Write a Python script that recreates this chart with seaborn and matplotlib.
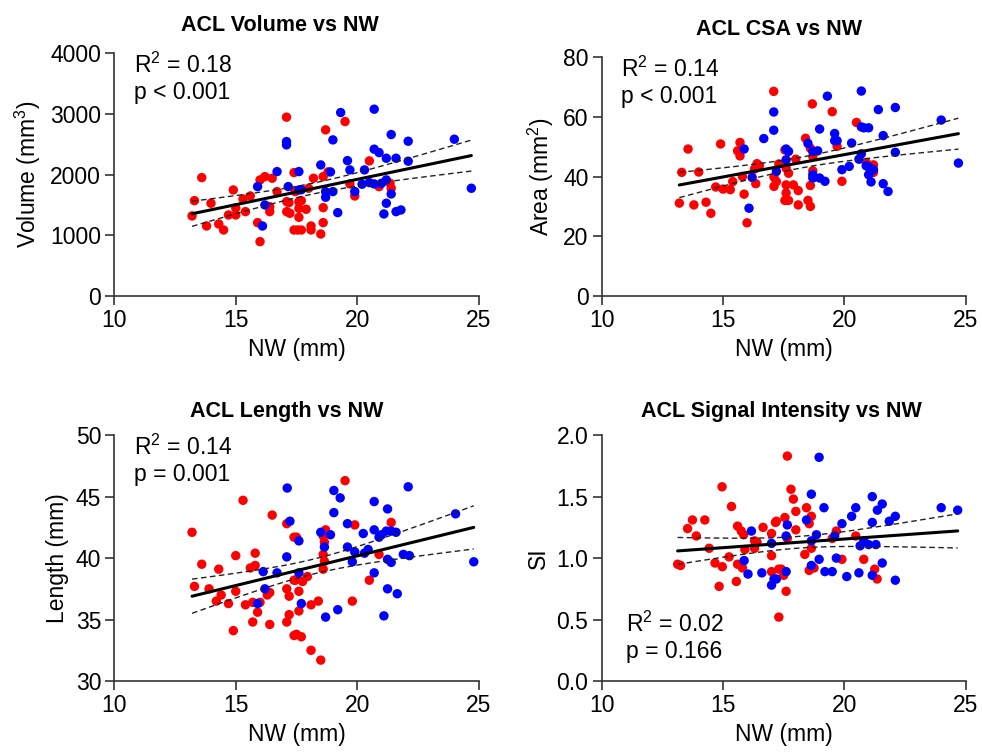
"""ACL morphology vs notch width (NW): 2x2 scatter + linear fit with 95% CI."""

import matplotlib
matplotlib.use("Agg")
import matplotlib.pyplot as plt  # noqa: E402
import numpy as np  # noqa: E402
import pandas as pd  # noqa: E402
import seaborn as sns  # noqa: E402

# ---------------- data ----------------

vol_red_nw = [17.09, 13.6, 16.0, 16.2, 13.3, 13.98, 13.2, 13.8, 14.3, 14.5, 14.7, 15.0, 15.0, 15.4,
              15.3, 14.9, 15.6, 15.9, 16.0, 16.4, 16.4, 16.5, 16.7, 17.1, 17.1, 17.4, 17.4,
              19.5, 18.7, 20.5, 18.8, 18.2, 18.6, 19.7, 20.9, 21.35, 21.4, 18.0, 19.9, 17.19, 17.23,
              17.6, 17.7, 17.6, 17.6, 17.9, 18.6, 18.6, 17.55, 17.7, 18.1, 18.1, 18.5, 17.45]
vol_red = [2944, 1949, 1911, 1965, 1570, 1527, 1318, 1153, 1186, 1087, 1334, 1334, 1450, 1389,
           1598, 1746, 1647, 1208, 895, 1471, 1389, 1939, 1719, 1554, 1389, 1087, 2032,
           2872, 2735, 2224, 2043, 1939, 1965, 1845, 1801, 1856, 1774, 1774, 1647, 1537, 1362,
           1554, 1570, 1444, 1296, 1428, 1455, 1208, 1087, 1087, 1153, 1087, 1021, 1719]
vol_blue_nw = [17.09, 17.09, 16.7, 15.9, 17.16, 16.1, 16.2,
               19.32, 20.7, 19.0, 21.4, 22.1, 24.0, 20.7, 20.9, 21.2, 21.6, 22.1, 19.6, 18.5, 19.7,
               20.3, 18.9, 17.6, 20.2, 20.5, 20.7, 21.0, 21.2, 21.4, 17.6, 17.7, 18.7, 18.7, 19.0,
               19.9, 21.2, 21.1, 21.6, 21.8, 19.2, 24.7]
vol_blue = [2542, 2488, 2048, 1801, 1801, 1153, 1499,
            3020, 3075, 2570, 2658, 2548, 2581, 2417, 2361, 2268, 2268, 2219, 2229, 2158, 2076,
            2076, 2043, 2048, 1840, 1867, 1845, 1856, 1911, 1680, 1746, 1750, 1719, 1626, 1719,
            1719, 1527, 1351, 1389, 1417, 1373, 1774]

csa_red_nw = [17.09, 13.56, 14.9, 15.7, 15.6, 15.7, 13.3, 14.0, 13.2, 13.8, 14.3, 14.5, 14.7, 15.0,
              15.3, 15.4, 15.8, 15.87, 15.99, 16.3, 16.4, 16.5, 16.35, 17.1, 17.1,
              18.68, 19.5, 20.5, 18.4, 19.7, 18.6, 17.55, 18.7, 18.0, 17.3, 17.6, 17.7, 17.2, 20.9,
              21.2, 21.2, 19.9, 18.7, 18.6, 17.6, 17.9, 18.1, 17.6, 17.55, 17.7, 18.1, 18.5, 18.6]
csa_red = [68.5, 49.2, 50.9, 51.4, 48.6, 46.9, 41.4, 41.5, 31.1, 30.5, 31.4, 27.7, 36.5, 35.8,
           35.6, 38.3, 40.0, 34.1, 24.5, 42.5, 44.3, 43.6, 37.6, 39.8, 36.7,
           64.3, 61.7, 58.1, 52.8, 50.1, 49.5, 48.9, 46.7, 45.8, 44.2, 42.8, 41.1, 38.3, 44.7,
           43.9, 41.4, 38.4, 41.9, 37.0, 37.2, 37.2, 35.3, 34.5, 32.0, 32.0, 30.5, 32.0, 30.0]
csa_blue_nw = [17.09, 17.09, 16.68, 15.87, 16.07, 16.2, 17.2,
               19.3, 20.7, 21.4, 22.1, 23.99, 18.98, 20.7, 20.8, 21.0, 21.6, 19.6, 19.6, 19.7, 18.5,
               20.3, 18.7, 18.9, 17.6, 17.7, 17.6, 20.7, 20.6, 20.9, 21.0, 21.2, 21.0, 22.1, 19.9,
               20.2, 21.1, 21.6, 21.8, 18.7, 18.7, 18.98, 19.2, 24.7]
csa_blue = [61.6, 55.5, 52.7, 49.2, 29.4, 39.7, 41.7,
            66.9, 68.6, 62.4, 63.1, 58.9, 55.9, 56.6, 56.3, 56.3, 53.7, 54.4, 52.0, 52.0, 51.1,
            51.2, 48.4, 48.6, 49.2, 48.4, 45.6, 47.6, 45.8, 43.6, 43.2, 42.3, 40.6, 48.1, 42.3,
            43.4, 38.2, 37.6, 35.0, 40.6, 39.5, 39.5, 38.4, 44.5]

len_red_nw = [15.3, 16.5, 17.1, 13.2, 15.0, 15.8, 13.6, 14.3, 15.6, 15.8, 13.3, 13.9, 14.4, 14.2,
              14.7, 15.0, 15.4, 15.7, 16.0, 15.9, 15.7, 14.9, 16.3, 16.4, 16.4, 17.1, 17.2, 17.1,
              17.2, 17.4, 17.4, 17.4,
              19.5, 19.9, 21.4, 18.7, 18.6, 18.65, 17.5, 20.9, 18.6, 18.65, 18.6, 20.5, 17.45,
              17.75, 17.95, 17.6, 17.6, 18.1, 18.4, 19.8, 17.5, 17.7, 18.1, 18.5]
len_red = [44.7, 43.5, 42.8, 42.1, 40.2, 40.4, 39.5, 39.1, 39.2, 39.4, 37.7, 37.5, 37.0, 36.5,
           36.3, 37.3, 36.2, 36.4, 36.4, 35.6, 34.8, 34.1, 37.0, 37.2, 34.6, 37.5, 36.9, 34.8,
           35.4, 33.7, 41.7, 38.2,
           46.3, 42.7, 42.9, 42.3, 41.8, 41.3, 41.7, 40.3, 40.3, 39.75, 39.1, 38.2, 38.2,
           38.1, 38.5, 37.3, 35.7, 36.2, 36.5, 36.5, 33.8, 33.6, 32.5, 31.7]
len_blue_nw = [17.12, 17.23, 16.13, 16.7, 17.1, 16.2, 15.9,
               19.04, 19.3, 22.1, 20.7, 21.25, 19.04, 24.05, 19.6, 20.7, 21.2, 21.4, 21.6, 20.25,
               20.9, 21.0, 18.5, 18.9, 18.65, 17.6, 19.6, 19.9, 20.3, 20.45, 19.8, 21.25, 21.4,
               21.9, 22.15, 24.8, 17.6, 20.7, 21.25, 21.65, 21.1, 17.7, 18.7, 19.2]
len_blue = [45.7, 43.0, 38.9, 38.8, 40.1, 37.5, 36.3,
            45.5, 44.9, 45.8, 44.6, 44.0, 43.7, 43.6, 42.8, 42.3, 42.2, 42.2, 42.1, 42.0,
            41.7, 41.9, 42.1, 41.9, 40.9, 41.4, 40.9, 40.5, 40.4, 40.7, 39.7, 39.9, 39.65,
            40.3, 40.2, 39.7, 38.8, 38.8, 37.5, 37.1, 35.3, 36.3, 35.2, 35.8]

si_red_nw = [14.96, 15.35, 13.74, 14.25, 13.54, 13.9, 15.6, 15.75, 15.85, 16.65, 17.16, 17.0, 16.3,
             16.4, 14.43, 15.9, 16.3, 17.0, 15.25, 13.13, 13.25, 14.67, 14.97, 15.6, 15.8, 15.55,
             17.0, 14.84, 17.3, 17.3,
             17.65, 17.8, 17.9, 18.0, 18.44, 18.64, 18.55, 17.55, 17.2, 18.0, 17.65, 19.67, 19.5,
             20.47, 18.64, 18.37, 19.9, 20.8, 18.55, 18.75, 21.25, 21.35, 17.4, 17.5, 17.6]
si_red = [1.58, 1.42, 1.31, 1.31, 1.24, 1.18, 1.26, 1.22, 1.19, 1.25, 1.29, 1.20, 1.14,
          1.13, 1.08, 1.07, 1.08, 1.02, 1.01, 0.95, 0.94, 0.96, 0.93, 0.95, 0.92, 0.81,
          0.89, 0.77, 0.91, 0.52,
          1.83, 1.56, 1.48, 1.38, 1.41, 1.34, 1.28, 1.33, 1.30, 1.23, 1.16, 1.22, 1.16,
          1.18, 1.08, 1.03, 0.99, 0.99, 0.90, 0.92, 0.91, 0.83, 0.91, 0.86, 0.73]
si_blue_nw = [16.17, 17.0, 15.87, 16.03, 16.6, 17.1, 17.0,
              18.96, 18.64, 18.44, 19.16, 17.65, 17.6, 18.85, 20.47, 20.3, 19.9, 21.15, 21.56,
              21.36, 22.1, 21.85, 21.15, 23.99, 24.67, 19.6, 18.64, 20.8, 20.65, 21.0, 21.3,
              18.96, 19.67, 21.56, 18.64, 19.2, 19.5, 20.1, 20.6, 21.15, 22.1, 17.6, 17.2]
si_blue = [1.22, 1.12, 0.98, 0.87, 0.88, 0.83, 0.78,
           1.82, 1.52, 1.31, 1.41, 1.27, 1.18, 1.19, 1.41, 1.34, 1.28, 1.50, 1.44,
           1.39, 1.34, 1.30, 1.29, 1.41, 1.39, 1.18, 1.14, 1.14, 1.10, 1.11, 1.11,
           0.99, 1.00, 0.96, 0.94, 0.89, 0.89, 0.85, 0.88, 0.86, 0.82, 0.89, 0.83]

titles = ["ACL Volume vs NW", "ACL CSA vs NW", "ACL Length vs NW", "ACL Signal Intensity vs NW"]
ylabels = ["Volume (mm$^3$)", "Area (mm$^2$)", "Length (mm)", "SI"]
stats_text = ["R$^2$ = 0.18\np < 0.001", "R$^2$ = 0.14\np < 0.001",
              "R$^2$ = 0.14\np = 0.001", "R$^2$ = 0.02\np = 0.166"]
ylims = [(0, 4000), (0, 80), (30, 50), (0, 2.0)]
yticks = [[0, 1000, 2000, 3000, 4000], [0, 20, 40, 60, 80],
          [30, 35, 40, 45, 50], [0.0, 0.5, 1.0, 1.5, 2.0]]
xticks = [10, 15, 20, 25]
title_x = [0.455, 0.487, 0.472, 0.495]

FONT = "Liberation Sans"
FS = 16.5
T95 = 1.984  # t(0.975, df~95)


def make_frame(red_nw, red_y, blue_nw, blue_y):
    red = pd.DataFrame({"NW": red_nw, "y": red_y, "group": "red"})
    blue = pd.DataFrame({"NW": blue_nw, "y": blue_y, "group": "blue"})
    return pd.concat([red, blue], ignore_index=True)


def fit_with_ci(df):
    x = df["NW"].to_numpy(float)
    y = df["y"].to_numpy(float)
    b, a = np.polyfit(x, y, 1)
    n = len(x)
    resid = y - (a + b * x)
    s = np.sqrt((resid ** 2).sum() / (n - 2))
    xs = np.linspace(x.min(), x.max(), 100)
    se = s * np.sqrt(1 / n + (xs - x.mean()) ** 2 / ((x - x.mean()) ** 2).sum())
    yhat = a + b * xs
    return xs, yhat, yhat - T95 * se, yhat + T95 * se


def draw_panel(ax, df, i):
    sns.scatterplot(data=df, x="NW", y="y", hue="group", hue_order=["red", "blue"],
                    palette={"red": "#ff0000", "blue": "#0000ff"}, s=46, linewidth=0,
                    legend=False, ax=ax, zorder=2, clip_on=False)
    xs, yhat, lo, hi = fit_with_ci(df)
    sns.lineplot(x=xs, y=yhat, color="black", lw=2.2, ax=ax, zorder=3)
    sns.lineplot(x=xs, y=lo, color="#222222", lw=1.0, ls=(0, (4, 2.5)), ax=ax, zorder=3)
    sns.lineplot(x=xs, y=hi, color="#222222", lw=1.0, ls=(0, (4, 2.5)), ax=ax, zorder=3)

    ax.set_xlim(10, 25)
    ax.set_ylim(*ylims[i])
    ax.set_xticks(xticks)
    ax.set_yticks(yticks[i])
    if i == 3:
        ax.set_yticklabels([f"{v:.1f}" for v in yticks[i]])
    ax.set_xlabel("NW (mm)", fontsize=FS, labelpad=4, color="black")
    ax.set_ylabel(ylabels[i], fontsize=FS, labelpad=5, color="black")
    ax.set_title(titles[i], fontsize=15.5, fontweight="bold", color="black",
                 x=title_x[i], pad=16 if i < 2 else 13)
    for side in ["top", "right"]:
        ax.spines[side].set_visible(False)
    for side in ["left", "bottom"]:
        ax.spines[side].set_color("#333333")
        ax.spines[side].set_linewidth(1.2)
    ax.tick_params(bottom=True, left=True, direction="out", length=6.5, width=1.2,
                   color="#333333", labelcolor="black", labelsize=FS, pad=3)
    ax.grid(False)

    if i == 3:
        ax.text(0.067, 0.075, stats_text[i], transform=ax.transAxes, color="black",
                ha="left", va="bottom", fontsize=FS, linespacing=1.15)
    else:
        ax.text(0.053, 1.0, stats_text[i], transform=ax.transAxes, color="black",
                ha="left", va="top", fontsize=FS, linespacing=1.15)


def main():
    sns.set_theme(style="white")
    plt.rcParams["font.family"] = [FONT, "DejaVu Sans"]
    plt.rcParams["mathtext.fontset"] = "custom"
    plt.rcParams["mathtext.rm"] = FONT
    plt.rcParams["mathtext.it"] = FONT
    plt.rcParams["mathtext.default"] = "regular"

    frames = [
        make_frame(vol_red_nw, vol_red, vol_blue_nw, vol_blue),
        make_frame(csa_red_nw, csa_red, csa_blue_nw, csa_blue),
        make_frame(len_red_nw, len_red, len_blue_nw, len_blue),
        make_frame(si_red_nw, si_red, si_blue_nw, si_blue),
    ]

    fig = plt.figure(figsize=(9.82, 7.55), dpi=100)
    positions = [
        [0.1164, 0.6079, 0.3710, 0.3219],
        [0.6127, 0.6079, 0.3707, 0.3166],
        [0.1164, 0.0980, 0.3710, 0.3256],
        [0.6127, 0.0980, 0.3707, 0.3256],
    ]
    for i, (pos, df) in enumerate(zip(positions, frames)):
        ax = fig.add_axes(pos)
        draw_panel(ax, df, i)

    fig.savefig("out.png", dpi=100, facecolor="white")
    plt.close(fig)


if __name__ == "__main__":
    main()
